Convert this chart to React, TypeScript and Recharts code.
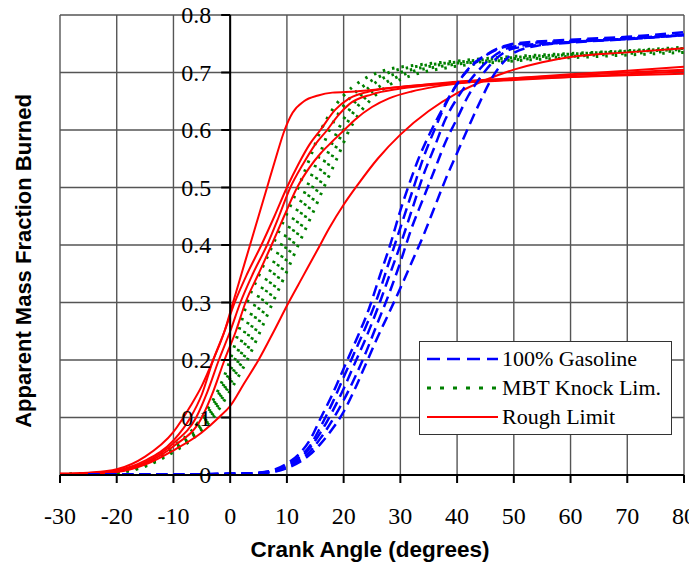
import { LineChart, Line, XAxis, YAxis, CartesianGrid, ReferenceLine, ReferenceDot } from 'recharts';

type Pt = [number, number];

const xTicks = [-30, -20, -10, 0, 10, 20, 30, 40, 50, 60, 70, 80];
const yTicks = [0, 0.1, 0.2, 0.3, 0.4, 0.5, 0.6, 0.7, 0.8];

// 100% Gasoline runs
const gasoline1: Pt[] = [[-25, 0.001], [-10, 0.001], [0, 0.002], [5, 0.004], [8, 0.01], [10, 0.02], [12, 0.035], [14, 0.06], [16, 0.1], [18, 0.14], [20, 0.185], [22, 0.23], [24.5, 0.29], [26.5, 0.35], [28.2, 0.4], [30, 0.46], [31.7, 0.51], [33.2, 0.55], [35, 0.59], [37.6, 0.64], [40, 0.68], [42.3, 0.71], [45, 0.73], [48, 0.745], [50, 0.75], [60, 0.757], [70, 0.762], [80, 0.77]];
const gasoline2: Pt[] = [[-25, 0.001], [-10, 0.001], [0, 0.002], [5, 0.004], [8, 0.009], [10, 0.017], [12, 0.03], [14, 0.05], [16, 0.085], [18, 0.125], [20, 0.17], [22, 0.215], [24, 0.26], [26, 0.31], [28, 0.37], [30, 0.43], [32, 0.49], [34, 0.55], [36, 0.6], [38, 0.645], [40, 0.68], [43, 0.715], [46, 0.735], [50, 0.748], [60, 0.755], [70, 0.76], [80, 0.765]];
const gasoline3: Pt[] = [[-25, 0.001], [-10, 0.001], [0, 0.002], [5, 0.003], [8, 0.008], [10, 0.015], [13, 0.035], [16, 0.075], [18, 0.11], [20, 0.15], [22, 0.195], [24, 0.24], [26, 0.29], [28, 0.345], [30, 0.4], [32, 0.46], [34, 0.52], [36, 0.57], [38, 0.62], [40, 0.655], [43, 0.695], [46, 0.725], [50, 0.745], [60, 0.753], [70, 0.759], [80, 0.766]];
const gasoline4: Pt[] = [[-25, 0.001], [-10, 0.001], [0, 0.002], [5, 0.003], [8, 0.007], [10, 0.013], [13, 0.03], [16, 0.065], [18, 0.095], [20, 0.13], [22, 0.17], [24, 0.215], [26, 0.265], [28, 0.315], [30, 0.37], [32, 0.43], [34, 0.48], [36, 0.53], [38, 0.58], [40, 0.62], [42, 0.66], [44, 0.69], [47, 0.725], [50, 0.742], [60, 0.752], [70, 0.758], [80, 0.765]];
const gasoline5: Pt[] = [[-25, 0.001], [-10, 0.001], [0, 0.002], [5, 0.003], [8, 0.006], [10, 0.012], [14, 0.035], [16, 0.055], [18, 0.08], [20, 0.11], [22, 0.15], [24, 0.195], [26, 0.24], [28, 0.282], [30, 0.325], [32, 0.37], [34, 0.415], [36, 0.465], [38, 0.515], [40, 0.56], [42, 0.605], [44, 0.648], [46, 0.688], [48, 0.716], [50, 0.734], [55, 0.748], [60, 0.753], [70, 0.758], [80, 0.765]];

// MBT Knock Limit runs
const mbt1: Pt[] = [[-30, 0.001], [-25, 0.002], [-20, 0.006], [-15, 0.02], [-10, 0.05], [-7, 0.075], [-5, 0.1], [-2, 0.15], [0, 0.2], [1.5, 0.25], [3, 0.3], [5.2, 0.35], [7.5, 0.4], [9.8, 0.45], [12, 0.5], [14, 0.55], [16, 0.6], [18, 0.635], [20, 0.66], [23, 0.685], [27, 0.703], [33, 0.713], [40, 0.72], [50, 0.728], [60, 0.733], [70, 0.738], [80, 0.744]];
const mbt2: Pt[] = [[-30, 0.001], [-25, 0.002], [-20, 0.005], [-15, 0.018], [-10, 0.046], [-7, 0.07], [-4.5, 0.1], [-1.5, 0.15], [0.8, 0.2], [2.6, 0.25], [4.5, 0.3], [6.8, 0.35], [9, 0.4], [11.3, 0.45], [13.5, 0.5], [15.5, 0.55], [17.5, 0.6], [19.5, 0.635], [21.5, 0.66], [24, 0.68], [28, 0.7], [34, 0.712], [40, 0.718], [50, 0.726], [60, 0.732], [70, 0.737], [80, 0.742]];
const mbt3: Pt[] = [[-30, 0.001], [-25, 0.002], [-20, 0.005], [-15, 0.017], [-10, 0.044], [-7, 0.066], [-4, 0.1], [-1, 0.15], [1.5, 0.2], [3.5, 0.25], [5.5, 0.3], [7.8, 0.35], [10, 0.4], [12.3, 0.45], [14.5, 0.5], [16.8, 0.55], [19, 0.6], [21, 0.635], [23, 0.66], [26, 0.685], [30, 0.7], [36, 0.712], [45, 0.72], [55, 0.728], [65, 0.734], [80, 0.74]];
const mbt4: Pt[] = [[-30, 0.001], [-25, 0.002], [-20, 0.004], [-15, 0.016], [-10, 0.042], [-7, 0.063], [-3.5, 0.1], [-0.5, 0.15], [2.2, 0.2], [4.4, 0.25], [6.5, 0.3], [8.8, 0.35], [11, 0.4], [13.3, 0.45], [15.5, 0.5], [17.8, 0.55], [20, 0.6], [22, 0.635], [24, 0.658], [27, 0.68], [31, 0.698], [38, 0.712], [50, 0.722], [60, 0.728], [70, 0.733], [80, 0.738]];
const mbt5: Pt[] = [[-30, 0.001], [-25, 0.002], [-20, 0.004], [-15, 0.015], [-10, 0.04], [-7, 0.06], [-3, 0.1], [0.2, 0.15], [3, 0.2], [5.3, 0.25], [7.5, 0.3], [9.8, 0.35], [12, 0.4], [14.3, 0.45], [16.5, 0.5], [18.8, 0.55], [21, 0.6], [23, 0.632], [25, 0.655], [28, 0.678], [32, 0.695], [38, 0.708], [50, 0.72], [65, 0.728], [80, 0.735]];

// Rough Limit runs
const rough1: Pt[] = [[-30, 0.002], [-25, 0.004], [-20, 0.01], [-15, 0.032], [-10, 0.075], [-7, 0.12], [-5, 0.155], [-3, 0.2], [-1, 0.25], [0.5, 0.3], [2, 0.35], [3.5, 0.4], [5, 0.45], [6.5, 0.5], [8, 0.55], [9.6, 0.6], [11, 0.63], [13, 0.65], [15.5, 0.66], [18, 0.665], [22, 0.667], [30, 0.675], [40, 0.684], [50, 0.69], [60, 0.695], [70, 0.7], [80, 0.705]];
const rough2: Pt[] = [[-30, 0.002], [-25, 0.003], [-20, 0.008], [-15, 0.025], [-10, 0.06], [-7, 0.1], [-5, 0.14], [-3, 0.2], [-1, 0.25], [0.8, 0.3], [3, 0.35], [5.5, 0.4], [7.8, 0.45], [10, 0.5], [12, 0.54], [14, 0.575], [15.9, 0.6], [18.5, 0.635], [21, 0.655], [25, 0.668], [30, 0.675], [40, 0.682], [50, 0.687], [60, 0.692], [70, 0.697], [80, 0.702]];
const rough3: Pt[] = [[-30, 0.002], [-25, 0.003], [-20, 0.007], [-15, 0.022], [-10, 0.055], [-6, 0.1], [-4, 0.145], [-2, 0.2], [0, 0.25], [1.8, 0.3], [4, 0.35], [6.5, 0.4], [8.6, 0.45], [10.6, 0.5], [12.8, 0.54], [15, 0.575], [17.1, 0.6], [19, 0.625], [21, 0.645], [25, 0.662], [30, 0.672], [40, 0.682], [50, 0.69], [60, 0.697], [70, 0.703], [80, 0.71]];
const rough4: Pt[] = [[-30, 0.001], [-25, 0.003], [-20, 0.006], [-15, 0.02], [-10, 0.05], [-5, 0.1], [-3, 0.145], [-1, 0.2], [1, 0.25], [2.7, 0.3], [5, 0.35], [7.3, 0.4], [9.5, 0.45], [11.8, 0.5], [14, 0.535], [16, 0.56], [18, 0.58], [20.1, 0.6], [22, 0.618], [25, 0.64], [28, 0.655], [32, 0.667], [36, 0.675], [42, 0.683], [50, 0.688], [60, 0.692], [70, 0.695], [80, 0.698]];
const rough5: Pt[] = [[-30, 0.001], [-25, 0.002], [-20, 0.005], [-15, 0.018], [-10, 0.043], [-5, 0.074], [-2, 0.1], [0, 0.12], [2.5, 0.16], [5, 0.2], [7.7, 0.25], [10.3, 0.3], [12.8, 0.345], [15.3, 0.39], [17.5, 0.43], [20, 0.47], [22.5, 0.505], [26, 0.55], [30, 0.592], [35, 0.633], [40, 0.664], [45, 0.687], [50, 0.705], [55, 0.718], [60, 0.727], [70, 0.735], [80, 0.742]];

const gasolineRuns = [gasoline1, gasoline2, gasoline3, gasoline4, gasoline5];
const mbtRuns = [mbt1, mbt2, mbt3, mbt4, mbt5];
const roughRuns = [rough1, rough2, rough3, rough4, rough5];

const BLUE = '#0000ff';
const GREEN = '#008000';
const RED = '#ff0000';
const BLUE_DASH = '11 6';
const GREEN_DASH = '2.5 7';

const legendItems = [
  { name: '100% Gasoline', color: BLUE, dash: '13 7', width: 2.5 },
  { name: 'MBT Knock Lim.', color: GREEN, dash: '4 9', width: 3 },
  { name: 'Rough Limit', color: RED, dash: undefined, width: 2 },
];

const serif = '"Liberation Serif", "Times New Roman", serif';
const sans = '"Liberation Sans", Arial, sans-serif';

const toRows = (pts: Pt[]) => pts.map(([x, y]) => ({ x, y }));

const YTick = ({ cx, cy, label }: any) => (
  <g>
    <line x1={cx - 9} y1={cy} x2={cx} y2={cy} stroke="#000" strokeWidth={2} />
    <text x={cx - 19} y={cy} dy={8} textAnchor="end" fontFamily={serif} fontSize={24} fill="#000">
      {label}
    </text>
  </g>
);

export default function App() {
  const W = 697;
  const H = 565;
  return (
    <div style={{ position: 'relative', width: W, height: H, margin: '-8px 0 0 -8px', background: '#fff' }}>
      <LineChart width={W} height={H} margin={{ top: 15, right: 13, left: 60, bottom: 40 }}>
        <CartesianGrid
          stroke="#555"
          strokeWidth={1.4}
          horizontalValues={yTicks}
          verticalValues={xTicks}
        />
        <XAxis
          type="number"
          dataKey="x"
          domain={[-30, 80]}
          ticks={xTicks}
          allowDataOverflow
          height={50}
          tickSize={8}
          tickMargin={24}
          axisLine={{ stroke: '#000', strokeWidth: 2 }}
          tickLine={{ stroke: '#000', strokeWidth: 2 }}
          tick={{ fill: '#000', fontFamily: serif, fontSize: 24 }}
        />
        <YAxis type="number" dataKey="y" domain={[0, 0.8]} ticks={yTicks} allowDataOverflow hide />
        {yTicks.map((v) => (
          <ReferenceDot
            key={`yt-${v}`}
            x={0}
            y={v}
            r={0}
            ifOverflow="visible"
            shape={(p: any) => <YTick {...p} label={v === 0 ? '0' : v.toFixed(1)} />}
          />
        ))}
        {mbtRuns.map((run, i) => (
          <Line
            key={`mbt-${i}`}
            data={toRows(run)}
            dataKey="y"
            type="monotone"
            stroke={GREEN}
            strokeWidth={3}
            strokeDasharray={GREEN_DASH}
            dot={false}
            isAnimationActive={false}
          />
        ))}
        {roughRuns.map((run, i) => (
          <Line
            key={`rough-${i}`}
            data={toRows(run)}
            dataKey="y"
            type="monotone"
            stroke={RED}
            strokeWidth={2}
            dot={false}
            isAnimationActive={false}
          />
        ))}
        {gasolineRuns.map((run, i) => (
          <Line
            key={`gas-${i}`}
            data={toRows(run)}
            dataKey="y"
            type="monotone"
            stroke={BLUE}
            strokeWidth={2.5}
            strokeDasharray={BLUE_DASH}
            dot={false}
            isAnimationActive={false}
          />
        ))}
        <ReferenceLine x={0} stroke="#000" strokeWidth={2} ifOverflow="visible" />
      </LineChart>

      <div
        style={{
          position: 'absolute',
          left: 24,
          top: 261,
          transform: 'translate(-50%, -50%) rotate(-90deg)',
          whiteSpace: 'nowrap',
          fontFamily: sans,
          fontWeight: 'bold',
          fontSize: 22,
          lineHeight: 1,
          color: '#000',
        }}
      >
        Apparent Mass Fraction Burned
      </div>
      <div
        style={{
          position: 'absolute',
          left: 370,
          top: 550,
          transform: 'translate(-50%, -50%)',
          whiteSpace: 'nowrap',
          fontFamily: sans,
          fontWeight: 'bold',
          fontSize: 22.5,
          lineHeight: 1,
          color: '#000',
        }}
      >
        Crank Angle (degrees)
      </div>

      <div
        style={{
          position: 'absolute',
          left: 419,
          top: 341,
          width: 253,
          height: 94,
          boxSizing: 'border-box',
          border: '1.5px solid #333',
          background: '#fff',
          paddingTop: 2,
        }}
      >
        {legendItems.map((item) => (
          <div key={item.name} style={{ display: 'flex', alignItems: 'center', height: 29 }}>
            <svg width={80} height={10} style={{ marginLeft: 6, flex: 'none' }}>
              <line
                x1={1}
                y1={5}
                x2={72}
                y2={5}
                stroke={item.color}
                strokeWidth={item.width}
                strokeDasharray={item.dash}
              />
            </svg>
            <span style={{ fontFamily: serif, fontSize: 22, color: '#000', marginLeft: -4 }}>{item.name}</span>
          </div>
        ))}
      </div>
    </div>
  );
}
